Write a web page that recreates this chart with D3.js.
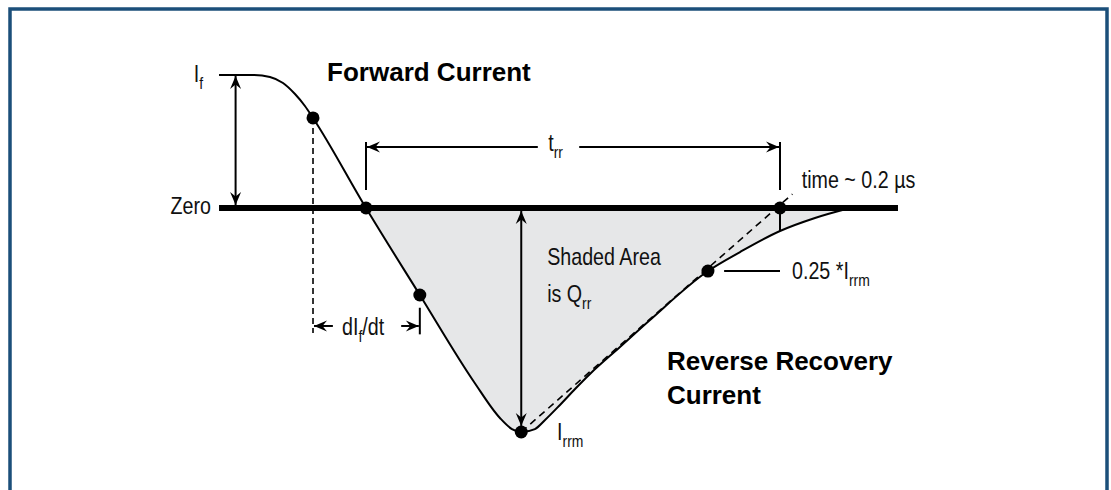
<!DOCTYPE html>
<html lang="en">
<head>
    <meta charset="UTF-8">
    <title>Reverse Recovery Current</title>
    <style>
        body, html {
            margin: 0;
            padding: 0;
            width: 100%;
            height: 100%;
            overflow: hidden;
            background-color: #ffffff;
        }

        .label {
            font-family: "Liberation Sans", Arial, sans-serif;
            font-size: 24px;
            fill: #111;
        }

        .title {
            font-family: "Liberation Sans", Arial, sans-serif;
            font-size: 26px;
            font-weight: bold;
            fill: #000;
        }

        .sub {
            font-size: 17px;
        }
    </style>
</head>
<body>
    <div id="chart"></div>

    <script src="https://d3js.org/d3.v7.min.js"></script>
    <script>
        // Current waveform, time in ns (0 = zero crossing), current relative to If
        const timeNs = [-71, -54, -46.4, -40.1, -34.3, -29.5, -25.6, 0, 26, 52.2, 64.7, 70.5, 75,
                        81.6, 86.5, 93.7, 101, 108.2, 122.7, 137.2, 165.2, 180.7, 200, 216.9, 233.8];
        const current = [1, 1, 0.985, 0.94, 0.857, 0.767, 0.677, 0, -0.654, -1.308, -1.579, -1.662, -1.684,
                         -1.662, -1.594, -1.481, -1.361, -1.248, -1.045, -0.842, -0.474, -0.331, -0.173, -0.075, 0];

        // Marked points on the waveform
        const dotTimes = [-25.6, 0, 26, 75, 165.2, 200];
        const dotCurrents = [0.677, 0, -0.654, -1.684, -0.474, 0];

        // Zero line and construction lines
        const zeroLine = [-71, 257];
        const trrSpan = [0, 200];
        const slopeLine = { t: [75, 206], i: [-1.684, 0.105] };

        const width = 1111;
        const height = 490;

        const svg = d3.select("#chart")
            .append("svg")
            .attr("width", width)
            .attr("height", height);

        // Frame
        svg.append("rect")
            .attr("x", 10)
            .attr("y", 9)
            .attr("width", 1097)
            .attr("height", 600)
            .attr("fill", "#fff")
            .attr("stroke", "#1b4f7a")
            .attr("stroke-width", 3.5);

        const x = d3.scaleLinear().domain([0, 200]).range([366, 780]);
        const y = d3.scaleLinear().domain([0, 1]).range([208, 75]);

        // Arrowhead
        const defs = svg.append("defs");
        defs.append("marker")
            .attr("id", "arrow")
            .attr("viewBox", "-14 -7 15 14")
            .attr("refX", 0)
            .attr("refY", 0)
            .attr("markerWidth", 15)
            .attr("markerHeight", 14)
            .attr("markerUnits", "userSpaceOnUse")
            .attr("orient", "auto-start-reverse")
            .append("path")
            .attr("d", "M0,0 L-13,-5.5 L-8.5,0 L-13,5.5 Z")
            .attr("fill", "#000");

        const pts = timeNs.map((t, k) => ({ t: t, i: current[k] }));

        // Shaded area (Qrr)
        const shaded = pts.filter(d => d.t >= 0);
        const area = d3.area()
            .x(d => x(d.t))
            .y0(y(0))
            .y1(d => y(d.i))
            .curve(d3.curveMonotoneX);

        svg.append("path")
            .datum(shaded)
            .attr("d", area)
            .attr("fill", "#e6e7e8");

        // Zero line
        svg.append("line")
            .attr("x1", x(zeroLine[0]))
            .attr("x2", x(zeroLine[1]))
            .attr("y1", y(0))
            .attr("y2", y(0))
            .attr("stroke", "#000")
            .attr("stroke-width", 6);

        // Waveform
        const line = d3.line()
            .x(d => x(d.t))
            .y(d => y(d.i))
            .curve(d3.curveMonotoneX);

        svg.append("path")
            .datum(pts)
            .attr("d", line)
            .attr("fill", "none")
            .attr("stroke", "#000")
            .attr("stroke-width", 2);

        // Dashed construction lines
        svg.append("line")
            .attr("x1", x(slopeLine.t[0]))
            .attr("y1", y(slopeLine.i[0]))
            .attr("x2", x(slopeLine.t[1]))
            .attr("y2", y(slopeLine.i[1]))
            .attr("stroke", "#000")
            .attr("stroke-width", 1.6)
            .attr("stroke-dasharray", "7,5");

        svg.append("line")
            .attr("x1", x(dotTimes[0]))
            .attr("y1", y(dotCurrents[0]))
            .attr("x2", x(dotTimes[0]))
            .attr("y2", y(-0.94))
            .attr("stroke", "#000")
            .attr("stroke-width", 1.6)
            .attr("stroke-dasharray", "6,4");

        // Solid helper lines
        const seg = (x1, y1, x2, y2, arrowEnd, arrowStart) => {
            const l = svg.append("line")
                .attr("x1", x1).attr("y1", y1)
                .attr("x2", x2).attr("y2", y2)
                .attr("stroke", "#000")
                .attr("stroke-width", 2);
            if (arrowEnd) l.attr("marker-end", "url(#arrow)");
            if (arrowStart) l.attr("marker-start", "url(#arrow)");
            return l;
        };

        // If double arrow
        seg(x(-63), y(1) + 1, x(-63), y(0) - 3, true, true);

        // trr span
        const trrY = y(0.459);
        seg(x(trrSpan[0]), y(0.496), x(trrSpan[0]), y(0.135));
        seg(x(trrSpan[1]), y(0.496), x(trrSpan[1]), y(0.135));
        seg(x(83), trrY, x(trrSpan[0]) + 1, trrY, true, false);
        seg(x(103), trrY, x(trrSpan[1]) - 1, trrY, true, false);

        // Irrm double arrow
        seg(x(dotTimes[3]), y(0) + 3, x(dotTimes[3]), y(dotCurrents[3]) - 6, true, true);

        // dIf/dt arrows
        const dY = y(-0.887);
        seg(x(-16), dY, x(dotTimes[0]) + 1, dY, true, false);
        seg(x(17), dY, x(dotTimes[2]) - 1, dY, true, false);
        seg(x(dotTimes[2]), y(-0.75), x(dotTimes[2]), y(-0.95));

        // small drop at end of trr and 0.25*Irrm leader
        seg(x(200), y(0), x(200), y(-0.173));
        seg(x(173), y(dotCurrents[4]), x(200), y(dotCurrents[4]));

        // Dots
        svg.selectAll(".dot")
            .data(dotTimes)
            .join("circle")
            .attr("class", "dot")
            .attr("cx", d => x(d))
            .attr("cy", (d, k) => y(dotCurrents[k]))
            .attr("r", 6.5)
            .attr("fill", "#000");

        // Labels with subscripts, narrowed to match the condensed face
        const label = (px, py, parts, anchor) => {
            const t = svg.append("text")
                .attr("class", "label")
                .attr("transform", `translate(${px},${py}) scale(0.82,1)`)
                .attr("text-anchor", anchor || "start");
            let down = false;
            parts.forEach(p => {
                const sub = p.startsWith("_");
                const ts = t.append("tspan").text(sub ? p.slice(1) : p);
                if (sub && !down) { ts.attr("class", "sub").attr("dy", 7); down = true; }
                else if (sub) { ts.attr("class", "sub"); }
                else if (down) { ts.attr("dy", -7); down = false; }
            });
            return t;
        };

        label(x(-71) - 16, y(1) + 7, ["I", "_f"], "end");
        label(x(-71) - 8, y(0) + 6, ["Zero"], "end");
        label(x(88), y(0.459) + 4, ["t", "_rr"]);
        label(x(210.5), y(0.15), ["time ~ 0.2 µs"]);
        label(x(87.5), y(-0.429), ["Shaded Area"]);
        label(x(87.5), y(-0.707), ["is Q", "_rr"]);
        label(x(205.8), y(-0.534), ["0.25 *I", "_rrm"]);
        label(x(92.3), y(-1.744), ["I", "_rrm"]);
        label(x(-11.6), y(-0.955), ["dI", "_f", "/dt"]);

        svg.append("text")
            .attr("class", "title")
            .attr("x", x(-18.8))
            .attr("y", y(0.955))
            .text("Forward Current");

        svg.append("text")
            .attr("class", "title")
            .attr("x", x(145.4))
            .attr("y", y(-1.218))
            .text("Reverse Recovery");

        svg.append("text")
            .attr("class", "title")
            .attr("x", x(145.4))
            .attr("y", y(-1.474))
            .text("Current");
    </script>
</body>
</html>
